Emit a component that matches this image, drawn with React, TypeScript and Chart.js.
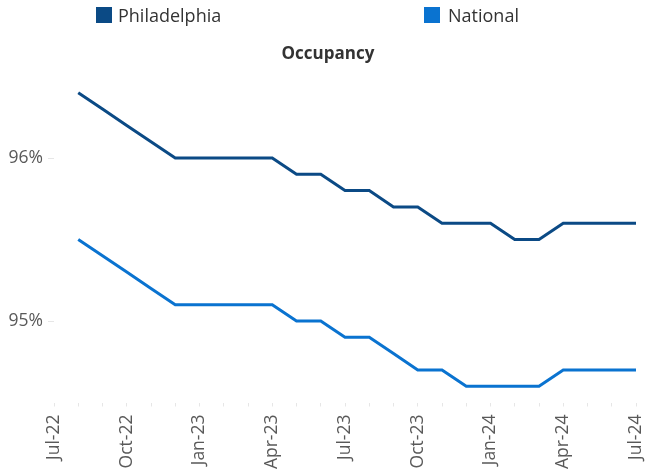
import React, { useEffect, useRef } from "react";
import { Chart, registerables } from "chart.js";

Chart.register(...registerables);

const months: string[] = [
  "Jul-22", "Aug-22", "Sep-22", "Oct-22", "Nov-22", "Dec-22",
  "Jan-23", "Feb-23", "Mar-23", "Apr-23", "May-23", "Jun-23",
  "Jul-23", "Aug-23", "Sep-23", "Oct-23", "Nov-23", "Dec-23",
  "Jan-24", "Feb-24", "Mar-24", "Apr-24", "May-24", "Jun-24", "Jul-24",
];

const philadelphia: (number | null)[] = [
  null, 96.4, 96.3, 96.2, 96.1, 96.0,
  96.0, 96.0, 96.0, 96.0, 95.9, 95.9,
  95.8, 95.8, 95.7, 95.7, 95.6, 95.6,
  95.6, 95.5, 95.5, 95.6, 95.6, 95.6, 95.6,
];

const national: (number | null)[] = [
  null, 95.5, 95.4, 95.3, 95.2, 95.1,
  95.1, 95.1, 95.1, 95.1, 95.0, 95.0,
  94.9, 94.9, 94.8, 94.7, 94.7, 94.6,
  94.6, 94.6, 94.6, 94.7, 94.7, 94.7, 94.7,
];

const yTicks: number[] = [95, 96];

const PHL_COLOR = "#0b4a85";
const NAT_COLOR = "#0a73d0";
const FONT = "'Open Sans', sans-serif";

export default function App() {
  const canvasRef = useRef<HTMLCanvasElement | null>(null);

  useEffect(() => {
    if (!canvasRef.current) return;
    const chart = new Chart(canvasRef.current, {
      type: "line",
      data: {
        labels: months,
        datasets: [
          {
            label: "Philadelphia",
            data: philadelphia,
            borderColor: PHL_COLOR,
            backgroundColor: PHL_COLOR,
            borderWidth: 3,
            pointRadius: 0,
            tension: 0,
          },
          {
            label: "National",
            data: national,
            borderColor: NAT_COLOR,
            backgroundColor: NAT_COLOR,
            borderWidth: 3,
            pointRadius: 0,
            tension: 0,
          },
        ],
      },
      options: {
        responsive: false,
        animation: false,
        layout: { padding: { top: 76.5, right: 9, bottom: 0, left: 0 } },
        plugins: {
          legend: { display: false },
          tooltip: { enabled: false },
          title: { display: false },
        },
        scales: {
          x: {
            type: "category",
            offset: false,
            border: { display: false },
            grid: {
              drawOnChartArea: false,
              drawTicks: true,
              tickLength: 4,
              color: "#e6e6e6",
            },
            ticks: {
              autoSkip: false,
              minRotation: 90,
              maxRotation: 90,
              padding: 8,
              color: "#595959",
              font: { family: FONT, size: 17.5 },
              callback: (_v: any, i: number) => (i % 3 === 0 ? months[i] : ""),
            },
            afterFit: (scale: any) => {
              scale.height = 68.5;
              scale.paddingRight = 0;
              scale.paddingLeft = 0;
            },
          },
          y: {
            min: 94.5,
            max: 96.5,
            border: { display: false },
            grid: {
              drawOnChartArea: false,
              drawTicks: true,
              tickLength: 6,
              color: "#e6e6e6",
            },
            afterBuildTicks: (axis: any) => {
              axis.ticks = yTicks.map((v) => ({ value: v }));
            },
            ticks: {
              padding: 5,
              color: "#595959",
              font: { family: FONT, size: 17.5 },
              callback: (v: any) => `${Math.round(Number(v))}%`,
            },
            afterFit: (scale: any) => {
              scale.width = 54;
              scale.paddingTop = 0;
              scale.paddingBottom = 0;
            },
          },
        },
      },
    });
    return () => chart.destroy();
  }, []);

  const legendText: React.CSSProperties = {
    position: "absolute",
    top: 3,
    fontFamily: FONT,
    fontSize: 18,
    lineHeight: "24px",
    color: "#333333",
    whiteSpace: "nowrap",
  };
  const box = (left: number, color: string): React.CSSProperties => ({
    position: "absolute",
    left,
    top: 7,
    width: 16,
    height: 16,
    background: color,
  });

  return (
    <div style={{ position: "absolute", left: 0, top: 0, width: 645, height: 471, background: "#fff" }}>
      <canvas ref={canvasRef} width={645} height={471} style={{ display: "block" }} />
      <div style={box(96, PHL_COLOR)} />
      <div style={{ ...legendText, left: 118 }}>Philadelphia</div>
      <div style={box(424, NAT_COLOR)} />
      <div style={{ ...legendText, left: 448 }}>National</div>
      <div
        style={{
          position: "absolute",
          left: 228,
          width: 200,
          top: 41,
          textAlign: "center",
          fontFamily: FONT,
          fontSize: 17,
          fontWeight: "bold",
          lineHeight: "24px",
          color: "#333333",
        }}
      >
        Occupancy
      </div>
    </div>
  );
}
